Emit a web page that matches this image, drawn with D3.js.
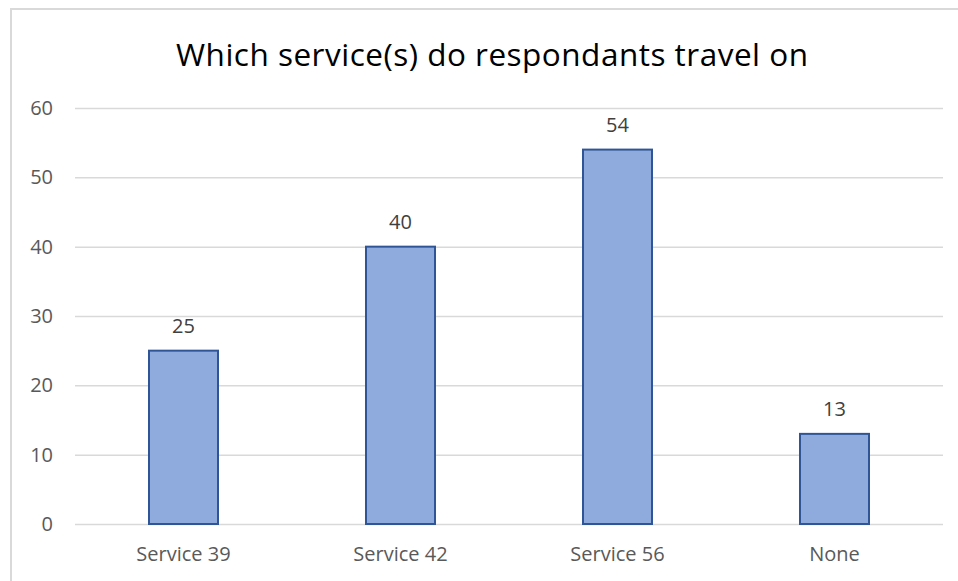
<!DOCTYPE html>
<html>
<head>
<meta charset="utf-8">
<script src="https://cdn.jsdelivr.net/npm/d3@7"></script>
<style>
  html, body { margin: 0; padding: 0; background: #fff; }
  svg { display: block; }
  text { font-family: "Open Sans", "Noto Sans", sans-serif; }
</style>
</head>
<body>
<script>
// Survey responses per bus service
const categories = ["Service 39", "Service 42", "Service 56", "None"];
const counts = [25, 40, 54, 13];
const yTicks = [0, 10, 20, 30, 40, 50, 60];
const title = "Which service(s) do respondants travel on";

const W = 958, H = 581;
const margin = { left: 75, right: 15, top: 108, bottom: 57 };

const svg = d3.select("body").append("svg")
  .attr("width", W).attr("height", H);

// chart frame
svg.append("rect")
  .attr("x", 11).attr("y", 9)
  .attr("width", W + 20).attr("height", H + 20)
  .attr("fill", "#fff")
  .attr("stroke", "#d9d9d9").attr("stroke-width", 2);

const x = d3.scaleBand()
  .domain(categories)
  .range([margin.left, W - margin.right])
  .paddingInner(0.682).paddingOuter(0.341);

const y = d3.scaleLinear()
  .domain([0, 60])
  .range([H - margin.bottom, margin.top]);

// title
svg.append("text")
  .attr("x", 492)
  .attr("y", 66)
  .attr("text-anchor", "middle")
  .attr("font-size", 31.5)
  .attr("textLength", 632)
  .attr("lengthAdjust", "spacing")
  .attr("fill", "#000")
  .text(title);

// gridlines and y labels
const yAxis = d3.axisLeft(y)
  .tickValues(yTicks)
  .tickSize(-(W - margin.right - margin.left))
  .tickPadding(22)
  .tickFormat(d3.format("d"));

const gy = svg.append("g")
  .attr("transform", `translate(${margin.left},0)`)
  .call(yAxis);
gy.select(".domain").remove();
gy.selectAll(".tick line")
  .attr("stroke", "#d9d9d9").attr("stroke-width", 1.5);
gy.selectAll(".tick text")
  .attr("fill", "#595959").attr("font-size", 20);

// category labels
const xAxis = d3.axisBottom(x).tickSize(0).tickPadding(23);
const gx = svg.append("g")
  .attr("transform", `translate(0,${H - margin.bottom})`)
  .call(xAxis);
gx.select(".domain").remove();
gx.selectAll(".tick text")
  .attr("fill", "#595959").attr("font-size", 20);

// bars
svg.append("g").selectAll("rect")
  .data(categories)
  .join("rect")
  .attr("x", d => x(d))
  .attr("y", (d, i) => y(counts[i]))
  .attr("width", x.bandwidth())
  .attr("height", (d, i) => y(0) - y(counts[i]))
  .attr("fill", "#8faadc")
  .attr("stroke", "#2f5597").attr("stroke-width", 2);

// value labels
svg.append("g").selectAll("text")
  .data(categories)
  .join("text")
  .attr("x", d => x(d) + x.bandwidth() / 2)
  .attr("y", (d, i) => y(counts[i]) - 18)
  .attr("text-anchor", "middle")
  .attr("fill", "#404040").attr("font-size", 20)
  .text((d, i) => counts[i]);
</script>
</body>
</html>
